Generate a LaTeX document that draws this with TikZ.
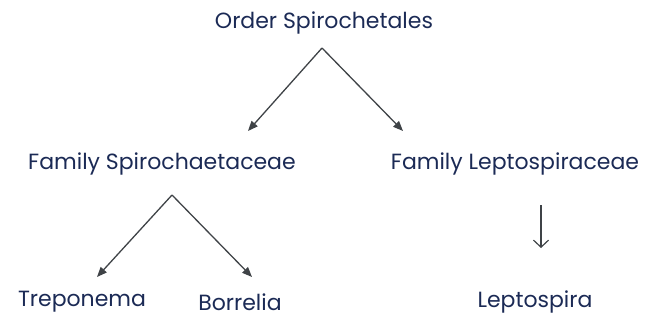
\documentclass[tikz,border=0pt]{standalone}
\usepackage{fontspec}
\setmainfont{Poppins}
\usepackage{tikz}
\usetikzlibrary{arrows.meta, positioning}
\definecolor{inkblue}{HTML}{1B2A55}
\definecolor{inkgrey}{HTML}{3F4347}

\begin{document}
\begin{tikzpicture}[
    x=1pt, y=-1pt,
    taxon/.style={text=inkblue, font=\fontsize{22}{26}\selectfont, inner sep=1pt},
    arr/.style={-{Triangle[length=10pt, width=8pt]}, inkgrey, line width=1.3pt},
    down/.style={-{Straight Barb[length=7pt, width=15pt]}, inkgrey, line width=1.2pt}
]
\useasboundingbox (0,0) rectangle (653,326);

% Order
\node[taxon] (order) at (324, 23) {Order Spirochetales};

% Families
\node[taxon] (spiro) at (162, 164) {Family Spirochaetaceae};
\node[taxon] (lepto) at (515, 164) {Family Leptospiraceae};

% Genera
\node[taxon] (trep)  at (82,  302) {Treponema};
\node[taxon] (borr)  at (240, 302) {Borrelia};
\node[taxon] (leptg) at (535, 302) {Leptospira};

% Arrow ends
\coordinate (apexO) at (322, 48);
\coordinate (tipS)  at (248, 131);
\coordinate (tipL)  at (403, 131);
\coordinate (apexS) at (172, 195);
\coordinate (tipT)  at (97,  277);
\coordinate (tipB)  at (252, 277);
\coordinate (topL)  at (541, 205);
\coordinate (tipG)  at (541, 248);

\draw[arr] (apexO) -- (tipS);
\draw[arr] (apexO) -- (tipL);
\draw[arr] (apexS) -- (tipT);
\draw[arr] (apexS) -- (tipB);
\draw[down] (topL) -- (tipG);

\end{tikzpicture}
\end{document}
